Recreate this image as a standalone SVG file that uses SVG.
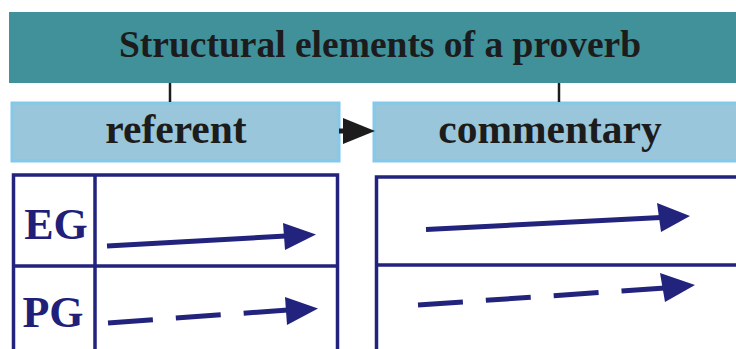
<svg xmlns="http://www.w3.org/2000/svg" width="736" height="349" viewBox="0 0 736 349">
<defs>
<style>
.title{font-family:"Liberation Serif","Times New Roman",serif;font-weight:bold;font-size:37.5px;fill:#1c1c1c;text-anchor:middle}
.head{font-family:"Liberation Serif","Times New Roman",serif;font-weight:bold;font-size:41.5px;fill:#1c1c1c;text-anchor:middle}
.lbl{font-family:"Liberation Serif","Times New Roman",serif;font-weight:bold;font-size:44px;fill:#20207a;text-anchor:middle}
.box{fill:#99c6da;stroke:#84c8ea;stroke-width:3}
.grid{fill:none;stroke:#22237c;stroke-width:3.5}
.arr{fill:none;stroke:#22237c;stroke-width:5}
.dash{stroke-dasharray:45 23}
.tick{stroke:#1c1c1c;stroke-width:2.5}
</style>
</defs>
<g id="title">
<rect x="9" y="12" width="727" height="71" fill="#41919a"/>
<text class="title" x="380" y="57">Structural elements of a proverb</text>
</g>
<g id="referent">
<rect class="box" x="12" y="103" width="327" height="58"/>
<text class="head" x="176" y="143">referent</text>
</g>
<g id="commentary">
<rect class="box" x="374" y="103" width="366" height="58"/>
<text class="head" x="550" y="143">commentary</text>
</g>
<g id="table-left">
<rect class="grid" x="13.5" y="175" width="324" height="190"/>
<line class="grid" x1="95" y1="175" x2="95" y2="349"/>
<line class="grid" x1="13.5" y1="266" x2="337.5" y2="266"/>
<text class="lbl" x="56" y="239">EG</text>
<text class="lbl" x="53" y="327">PG</text>
</g>
<g id="table-right">
<path class="grid" d="M376.5 349 V177 H740"/>
<line class="grid" x1="376.5" y1="265" x2="740" y2="265"/>
</g>
<g id="connectors">
<line class="tick" x1="170" y1="83" x2="170" y2="102"/>
<line class="tick" x1="559" y1="83" x2="559" y2="102"/>
<line x1="339" y1="131" x2="348" y2="131" stroke="#1c1c1c" stroke-width="5"/>
<polygon points="343,118 375,131 343,144" fill="#1c1c1c"/>
<line class="arr" x1="107" y1="246" x2="286" y2="236"/>
<polygon points="283,223 316,234.5 285,250" fill="#22237c"/>
<line class="arr dash" x1="108" y1="323" x2="288" y2="310"/>
<polygon points="285,297 318,308.5 287,325" fill="#22237c"/>
<line class="arr" x1="426" y1="229.5" x2="661" y2="217.5"/>
<polygon points="657,203 690,216 661,232" fill="#22237c"/>
<line class="arr dash" x1="418" y1="305" x2="665" y2="288"/>
<polygon points="660,273 695,285 665,302" fill="#22237c"/>
</g>
</svg>
